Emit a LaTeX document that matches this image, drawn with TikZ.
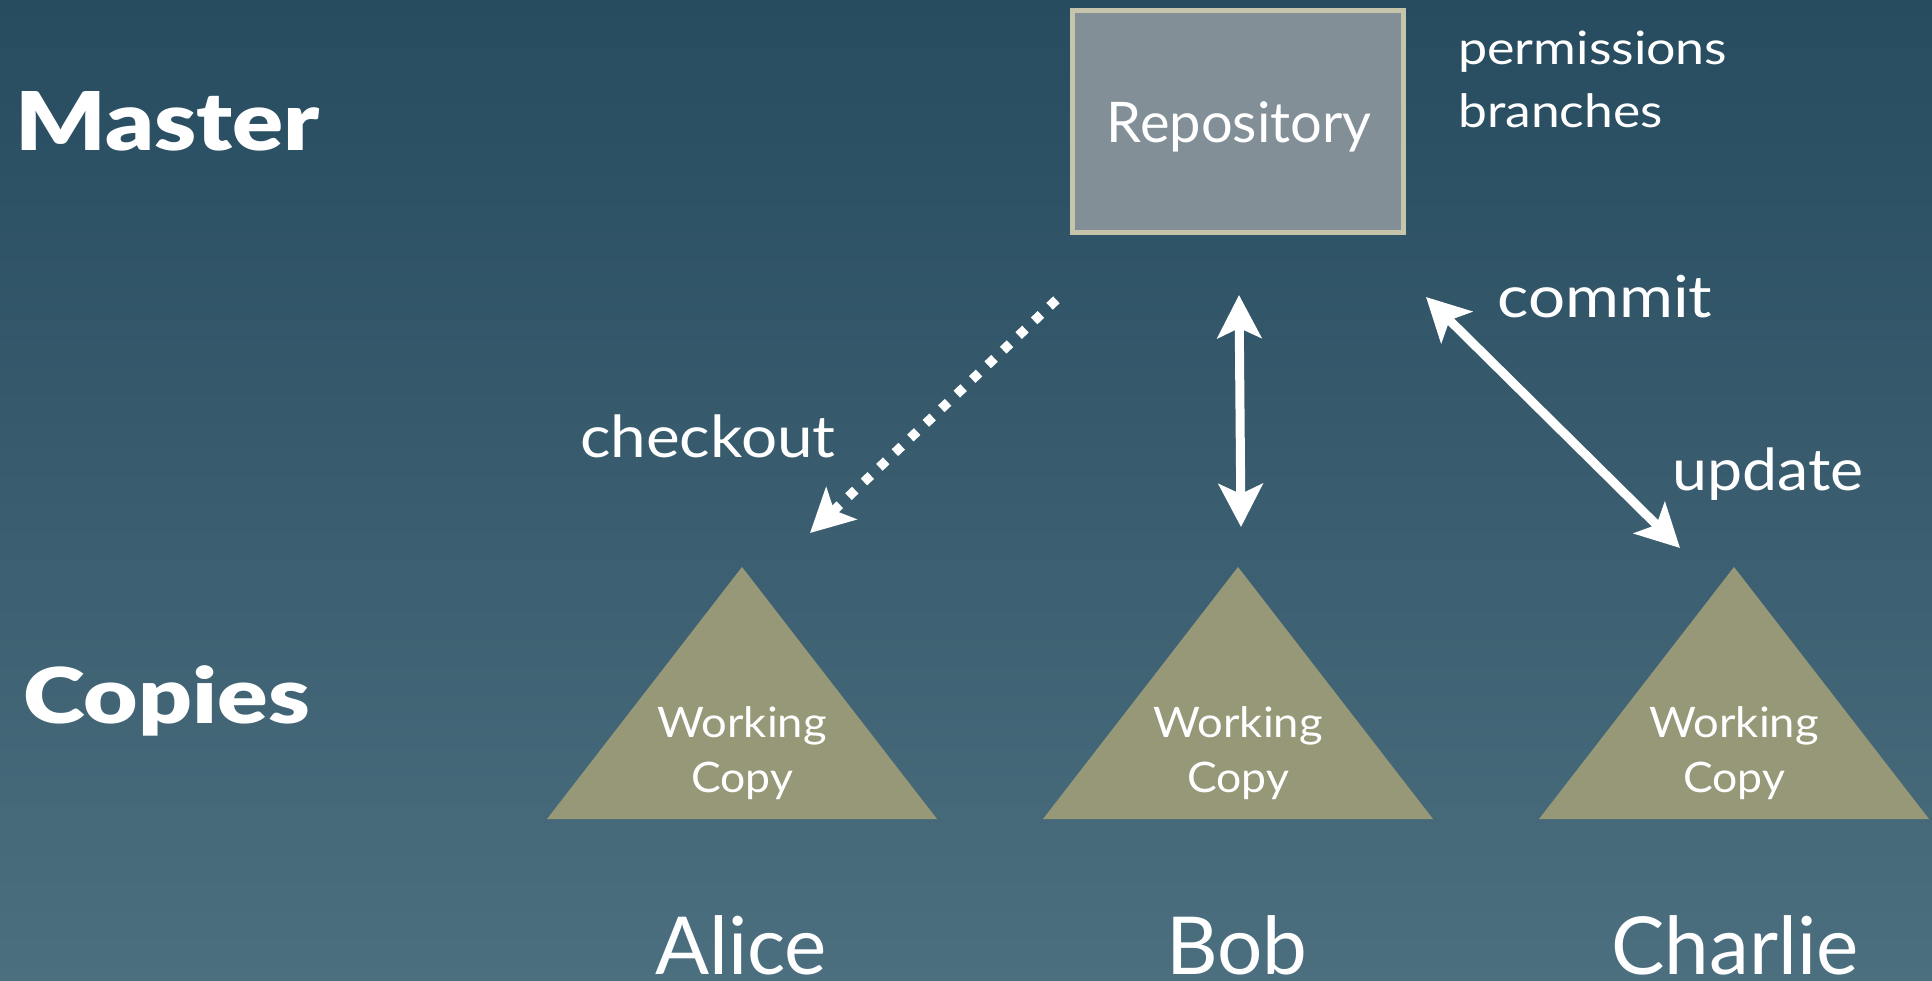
\documentclass[tikz,border=0pt]{standalone}
\usepackage{graphicx}
\usepackage{fontspec}
\setmainfont{Lato}
\newfontfamily\blackfont{Lato Black}
\usetikzlibrary{arrows.meta}
\definecolor{bgtop}{HTML}{274B5F}
\definecolor{bgbot}{HTML}{4B6F7E}
\definecolor{repofill}{HTML}{838F97}
\definecolor{repoline}{HTML}{C6C5AB}
\definecolor{trifill}{HTML}{979878}
\newcommand{\wide}[2]{\scalebox{#1}[1]{#2}}
\tikzset{
  head/.style={font=\blackfont\fontsize{81}{90}\selectfont, text=white, anchor=base west, inner sep=0pt},
  lbl/.style={font=\fontsize{58}{66}\selectfont, text=white, anchor=base west, inner sep=0pt},
  side/.style={font=\fontsize{46}{54}\selectfont, text=white, anchor=base west, inner sep=0pt},
  person/.style={font=\fontsize{80}{90}\selectfont, text=white, anchor=base, inner sep=0pt},
  wc/.style={font=\fontsize{42}{50}\selectfont, text=white, anchor=base, inner sep=0pt},
  tri/.style={fill=trifill},
  link/.style={draw=white, line width=9pt, {Stealth[length=43pt,width=44pt,inset=10pt]}-{Stealth[length=43pt,width=44pt,inset=10pt]}},
  dotlink/.style={draw=white, line width=9.4pt, line cap=butt, dash pattern=on 9.4pt off 11.9pt, -{Stealth[length=43pt,width=44pt,inset=10pt]}},
}
\begin{document}
\begin{tikzpicture}[x=1pt,y=-1pt]
\useasboundingbox (0,0) rectangle (1932,980);
\shade[top color=bgtop,bottom color=bgbot] (0,0) rectangle (1932,980);

% headings
\node[head] (master) at (15,150) {\wide{1.17}{Master}};
\node[head, font=\blackfont\fontsize{77}{86}\selectfont] (copies) at (23,723) {\wide{1.22}{Copies}};

% repository
\node[draw=repoline, line width=5pt, fill=repofill, minimum width=331pt, minimum height=222pt, inner sep=0pt] (repo) at (1238,121.5) {};
\node[font=\fontsize{56}{64}\selectfont, text=white, anchor=base, inner sep=0pt] (repotxt) at (1239,142) {Repository};
\node[side] (perm) at (1458,64) {\wide{1.13}{permissions}};
\node[side] (branch) at (1458,127) {\wide{1.12}{branches}};

% working copies
\fill[tri] (742,567) -- (547,819) -- (937,819) -- cycle;
\fill[tri] (1238,567) -- (1043,819) -- (1433,819) -- cycle;
\fill[tri] (1734,567) -- (1539,819) -- (1929,819) -- cycle;
\node[wc] (wa1) at (742,737) {\wide{1.08}{Working}};
\node[wc] (wa2) at (742,792) {\wide{1.06}{Copy}};
\node[wc] (wb1) at (1238,737) {\wide{1.08}{Working}};
\node[wc] (wb2) at (1238,792) {\wide{1.06}{Copy}};
\node[wc] (wc1) at (1734,737) {\wide{1.08}{Working}};
\node[wc] (wc2) at (1734,792) {\wide{1.06}{Copy}};

% names
\node[person] (alice) at (741,974) {Alice};
\node[person] (bob) at (1237,974) {Bob};
\node[person] (charlie) at (1735,974) {Charlie};

% labels
\node[lbl] (checkout) at (580,457) {\wide{1.10}{checkout}};
\node[lbl] (commit) at (1497,317) {\wide{1.13}{commit}};
\node[lbl] (update) at (1672,490) {\wide{1.08}{update}};

% arrows
\coordinate (dS) at (1056.4,299.8);
\coordinate (dE) at (810,533);
\coordinate (vS) at (1239,295);
\coordinate (vE) at (1241,527);
\coordinate (cS) at (1426,297);
\coordinate (cE) at (1680,548);
\draw[dotlink] (dS) -- (dE);
\draw[link] (vS) -- (vE);
\draw[link] (cS) -- (cE);
\end{tikzpicture}
\end{document}
